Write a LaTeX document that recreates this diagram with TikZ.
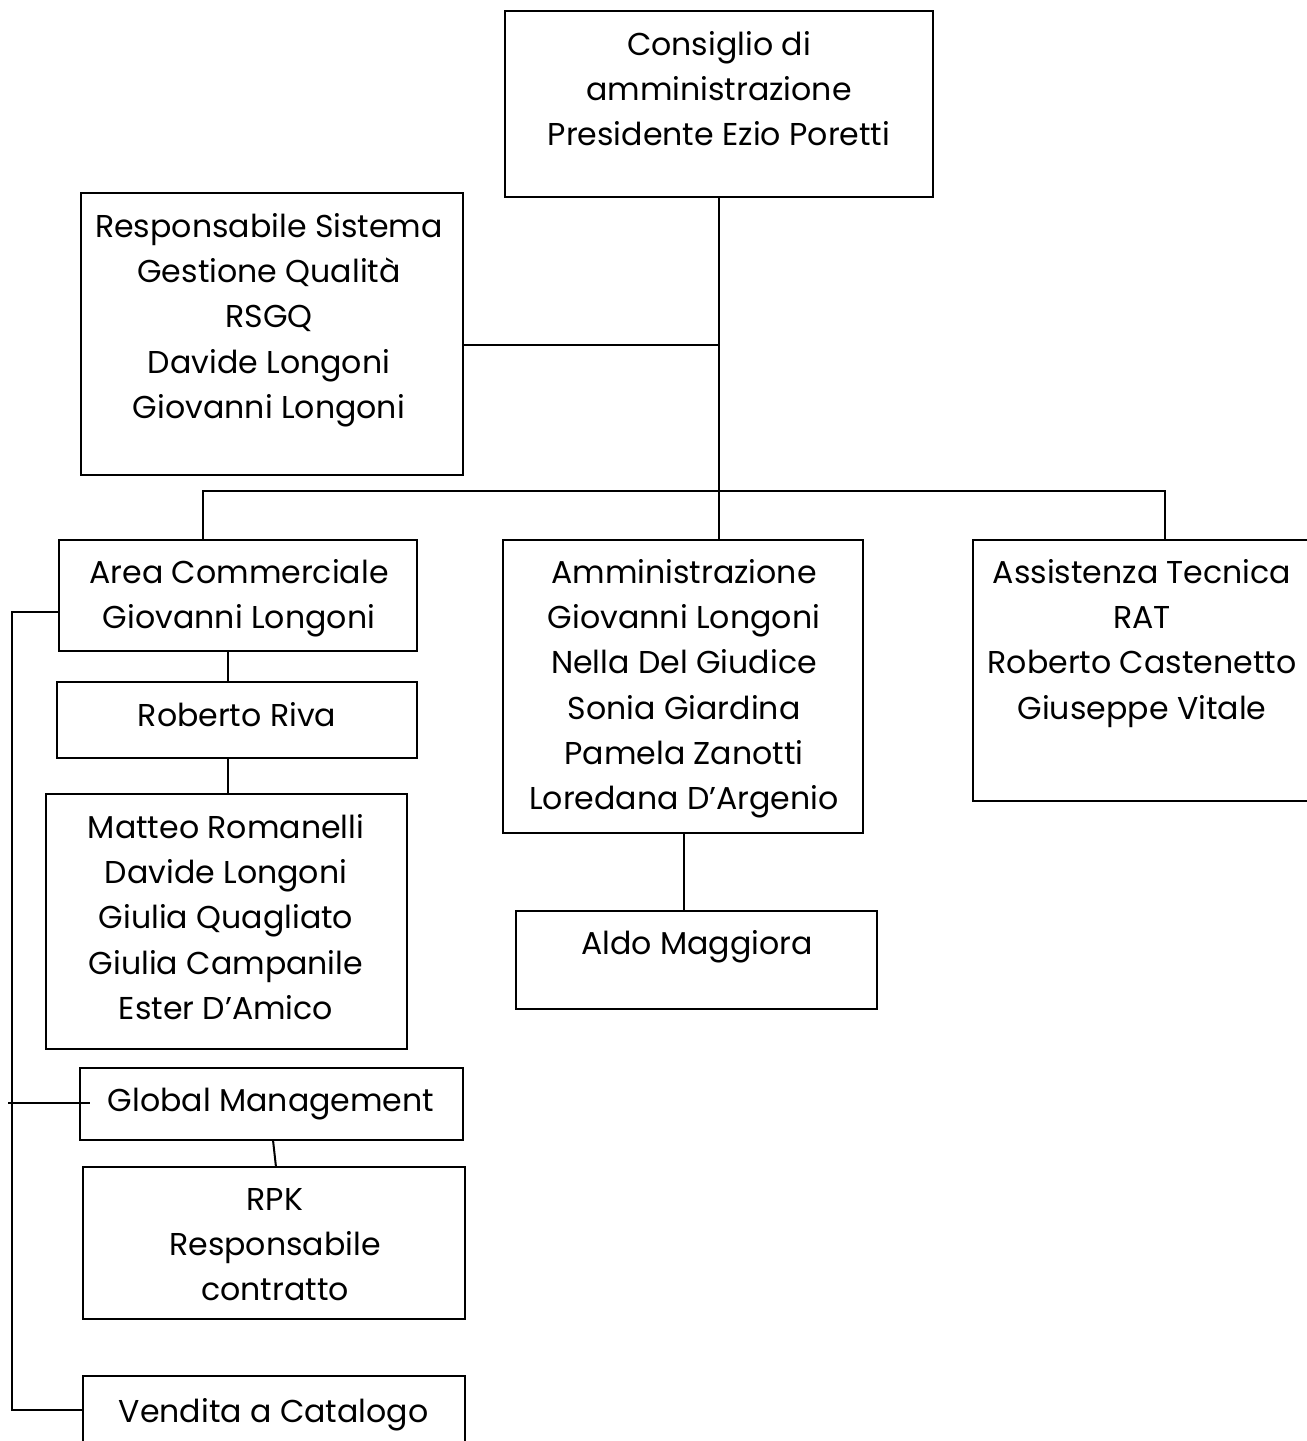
\documentclass[tikz,border=0pt]{standalone}
\usepackage{fontspec}
\setmainfont{Poppins}
\begin{document}
\begin{tikzpicture}[x=0.5pt,y=-0.5pt,
  box/.style={draw,line width=1pt,rectangle,inner sep=0pt},
  txt/.style={anchor=north,align=center,inner sep=0pt,font=\fontsize{15.8}{22.6}\selectfont},
  conn/.style={line width=1pt}]
\useasboundingbox (0,0) rectangle (1307,1441);
% boxes
\node[box,minimum width=214pt,minimum height=93pt] (cons) at (719,104) {};
\node[box,minimum width=191pt,minimum height=141pt] (rsgq) at (272,334) {};
\node[box,minimum width=179pt,minimum height=55.5pt] (area) at (238,595.5) {};
\node[box,minimum width=180pt,minimum height=38pt] (riva) at (237,720) {};
\node[box,minimum width=180.5pt,minimum height=127.5pt] (matt) at (226.5,921.5) {};
\node[box,minimum width=191.5pt,minimum height=36pt] (glob) at (271.5,1104) {};
\node[box,minimum width=191pt,minimum height=76pt] (rpk) at (274,1243) {};
\node[box,minimum width=191pt,minimum height=42pt] (vend) at (274,1418) {};
\node[box,minimum width=180pt,minimum height=146.5pt] (amm) at (683,686.5) {};
\node[box,minimum width=180.5pt,minimum height=49pt] (aldo) at (696.5,960) {};
\node[box,minimum width=178.5pt,minimum height=130.5pt] (asst) at (1151.5,670.5) {};
% texts
\node[txt] (consT) at (719,31) {Consiglio di\\amministrazione\\Presidente Ezio Poretti};
\node[txt] (rsgqT) at (269,213) {Responsabile Sistema\\Gestione Qualità\\RSGQ\\Davide Longoni\\Giovanni Longoni};
\node[txt] (areaT) at (239,559) {Area Commerciale\\Giovanni Longoni};
\node[txt] (rivaT) at (237,702) {Roberto Riva};
\node[txt] (mattT) at (226,814) {Matteo Romanelli\\Davide Longoni\\Giulia Quagliato\\Giulia Campanile\\Ester D’Amico};
\node[txt] (globT) at (271,1088) {Global Management};
\node[txt] (rpkT) at (275,1188) {RPK\\Responsabile\\contratto};
\node[txt] (vendT) at (273.5,1398) {Vendita a Catalogo};
\node[txt] (ammT) at (684,559) {Amministrazione\\Giovanni Longoni\\Nella Del Giudice\\Sonia Giardina\\Pamela Zanotti\\Loredana D’Argenio};
\node[txt] (aldoT) at (697,930) {Aldo Maggiora};
\node[txt] (asstT) at (1142,559) {Assistenza Tecnica\\RAT\\Roberto Castenetto\\Giuseppe Vitale};
% junction coordinates
\coordinate (j1) at (719,345);
\coordinate (bL) at (203,491);
\coordinate (bR) at (1165,491);
\coordinate (xr) at (228,0);
\coordinate (xl) at (12,0);
\coordinate (ga) at (8,1103);
\coordinate (gb) at (90,1103);
\coordinate (ya) at (0,612);
\coordinate (yv) at (0,1410);
\coordinate (xa) at (684,0);
\coordinate (ra) at (273,1140);
\coordinate (rb) at (276,1167);
% connectors
\draw[conn] (cons.south) -- (cons.south |- amm.north);
\draw[conn] (rsgq.east |- j1) -- (j1);
\draw[conn] (area.north -| bL) -- (bL) -- (bR) -- (asst.north -| bR);
\draw[conn] (area.south -| xr) -- (riva.north -| xr);
\draw[conn] (riva.south -| xr) -- (matt.north -| xr);
\draw[conn] (area.west |- ya) -- (xl |- ya) -- (xl |- yv) -- (vend.west |- yv);
\draw[conn] (ga) -- (gb);
\draw[conn] (ra) -- (rb);
\draw[conn] (amm.south -| xa) -- (aldo.north -| xa);
\end{tikzpicture}
\end{document}
